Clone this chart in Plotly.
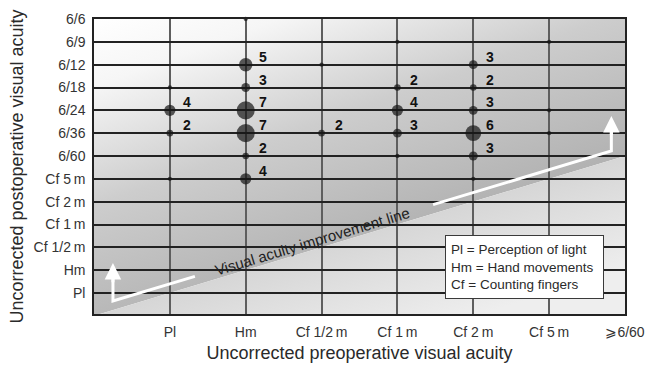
import base64
import math
import plotly.graph_objects as go

# ---------------- data ----------------
pre_categories = ["Pl", "Hm", "Cf 1/2m", "Cf 1m", "Cf 2m", "Cf 5m", ">=6/60"]
pre_tick_labels = ["Pl", "Hm", "Cf 1/2\u2009m", "Cf 1\u2009m", "Cf 2\u2009m", "Cf 5\u2009m", "\u2a7e6/60"]

post_categories = ["Pl", "Hm", "Cf 1/2m", "Cf 1m", "Cf 2m", "Cf 5m",
                   "6/60", "6/36", "6/24", "6/18", "6/12", "6/9", "6/6"]
post_tick_labels = ["Pl", "Hm", "Cf 1/2\u2009m", "Cf 1\u2009m", "Cf 2\u2009m", "Cf 5\u2009m",
                    "6/60", "6/36", "6/24", "6/18", "6/12", "6/9", "6/6"]

pre_points = ["Pl", "Pl", "Pl", "Pl",
              "Hm", "Hm", "Hm", "Hm", "Hm", "Hm", "Hm",
              "Cf 1/2m", "Cf 1/2m",
              "Cf 1m", "Cf 1m", "Cf 1m", "Cf 1m", "Cf 1m",
              "Cf 2m", "Cf 2m", "Cf 2m", "Cf 2m", "Cf 2m", "Cf 2m",
              "Cf 5m", "Cf 5m", "Cf 5m"]
post_points = ["6/18", "6/24", "6/36", "Cf 5m",
               "6/6", "6/12", "6/18", "6/24", "6/36", "6/60", "Cf 5m",
               "6/12", "6/36",
               "6/9", "6/18", "6/24", "6/36", "6/60",
               "6/12", "6/18", "6/24", "6/36", "6/60", "Cf 5m",
               "6/9", "6/24", "6/36"]
patient_counts = [1, 4, 2, 1,
                  1, 5, 3, 7, 7, 2, 4,
                  1, 2,
                  1, 2, 4, 3, 1,
                  3, 2, 3, 6, 3, 1,
                  1, 1, 1]

legend_lines = ["Pl = Perception of light", "Hm = Hand movements", "Cf = Counting fingers"]
improvement_label = "Visual acuity improvement line"
x_title = "Uncorrected preoperative visual acuity"
y_title = "Uncorrected postoperative visual acuity"

# ---------------- geometry / style ----------------
W_FIG, H_FIG = 645, 367
M_L, M_R, M_T, M_B = 94, 20, 19, 53
XR = [-1, 6]
YR = [-0.92, 12]
FONT = "Liberation Sans, Arial, Helvetica, sans-serif"

xs = [pre_categories.index(c) for c in pre_points]
ys = [post_categories.index(c) for c in post_points]
sizes = [2 + 2.3 * c for c in patient_counts]

# background gradient as inline SVG (decoration only)
PW, PH = W_FIG - M_L - M_R, H_FIG - M_T - M_B


def px(x):
    return (x - XR[0]) / (XR[1] - XR[0]) * PW


def py(y):
    return (YR[1] - y) / (YR[1] - YR[0]) * PH


lx0, ly0 = px(XR[0]), py(XR[0])
lx1, ly1 = px(XR[1]), py(XR[1])
mx, my = (lx0 + lx1) / 2, (ly0 + ly1) / 2
dx, dy = lx1 - lx0, ly1 - ly0
nlen = (dx * dx + dy * dy) ** 0.5
nx, ny = -dy / nlen, dx / nlen  # normal pointing down-right
svg = f'''<svg xmlns="http://www.w3.org/2000/svg" width="{PW}" height="{PH}" viewBox="0 0 {PW} {PH}" preserveAspectRatio="none">
<defs>
<linearGradient id="up" gradientUnits="userSpaceOnUse" x1="0" y1="0" x2="110" y2="300">
<stop offset="0" stop-color="#ffffff"/>
<stop offset="0.2" stop-color="#f6f6f6"/>
<stop offset="0.55" stop-color="#cdcdcd"/>
<stop offset="1" stop-color="#b0b0b0"/>
</linearGradient>
<linearGradient id="lo" gradientUnits="userSpaceOnUse" x1="{mx:.1f}" y1="{my:.1f}" x2="{mx + 110 * nx:.1f}" y2="{my + 110 * ny:.1f}">
<stop offset="0" stop-color="#d6d6d6"/>
<stop offset="1" stop-color="#eeeeee"/>
</linearGradient>
</defs>
<polygon points="0,0 {PW},0 {lx1:.1f},{ly1:.1f} {lx0:.1f},{ly0:.1f}" fill="url(#up)"/>
<polygon points="{lx0:.1f},{ly0:.1f} {lx1:.1f},{ly1:.1f} {PW},{PH + 5} 0,{PH + 5}" fill="url(#lo)"/>
</svg>'''
svg_uri = "data:image/svg+xml;base64," + base64.b64encode(svg.encode()).decode()

fig = go.Figure()

fig.add_trace(go.Scatter(
    x=xs, y=ys, mode="markers",
    marker=dict(size=sizes, color="#151515", line=dict(width=0)),
    showlegend=False, hoverinfo="skip", cliponaxis=False,
))

annotations = []
for x, y, c in zip(xs, ys, patient_counts):
    if c > 1:
        annotations.append(dict(
            x=x, y=y, xref="x", yref="y", text=f"<b>{c}</b>", showarrow=False,
            xshift=17, yshift=8, font=dict(family=FONT, size=14, color="#111"),
            xanchor="center", yanchor="middle"))

# improvement line text (collinear with identity line, offset 0.4)
OFF = 0.4
tx = 1.87
angle = -math.degrees(math.atan((PH / (YR[1] - YR[0])) / (PW / (XR[1] - XR[0]))))
annotations.append(dict(
    x=tx, y=tx + OFF, xref="x", yref="y", text=improvement_label, showarrow=False,
    textangle=angle, font=dict(family=FONT, size=15, color="#1e1e1e"),
    xanchor="center", yanchor="middle"))

# white arrows
shapes = []
arrow_sets = [(0.33, -0.75, 1.31), (3.47, 5.82, 7.75)]
for xstart, xcorner, ytip in arrow_sets:
    shapes.append(dict(
        type="path", xref="x", yref="y",
        path=f"M {xstart},{xstart + OFF} L {xcorner},{xcorner + OFF} L {xcorner},{ytip - 0.6}",
        line=dict(color="white", width=3), layer="above"))
    annotations.append(dict(
        x=xcorner, y=ytip, ax=xcorner, ay=ytip - 0.9, xref="x", yref="y",
        axref="x", ayref="y", text="", showarrow=True, arrowhead=2,
        arrowsize=1.1, arrowwidth=3, arrowcolor="white"))

# legend box
annotations.append(dict(
    x=0.811, y=0.158, xref="paper", yref="paper", text="<br>".join(legend_lines),
    showarrow=False, align="left", xanchor="center", yanchor="middle",
    font=dict(family=FONT, size=13.5, color="#2a2a2a"),
    bgcolor="white", bordercolor="#3a3a3a", borderwidth=1, borderpad=5,
    width=147, height=52))

fig.update_layout(
    width=W_FIG, height=H_FIG,
    margin=dict(l=M_L, r=M_R, t=M_T, b=M_B, autoexpand=False),
    paper_bgcolor="white", plot_bgcolor="rgba(0,0,0,0)",
    images=[dict(source=svg_uri, xref="paper", yref="paper", x=0, y=1,
                 sizex=1, sizey=1, xanchor="left", yanchor="top",
                 sizing="stretch", layer="below")],
    shapes=shapes, annotations=annotations,
    font=dict(family=FONT, color="#2a2a2a"),
)

fig.update_xaxes(
    range=XR, tickvals=list(range(len(pre_categories))), ticktext=pre_tick_labels,
    showgrid=True, gridcolor="#5e5e5e", gridwidth=2, zeroline=False,
    showline=True, linecolor="#222", linewidth=1.5, mirror=True,
    ticks="", ticklabelstandoff=4, tickfont=dict(family=FONT, size=14, color="#333"),
    title=dict(text=x_title, font=dict(family=FONT, size=18, color="#2a2a2a"), standoff=8),
    automargin=False,
)
fig.update_yaxes(
    range=YR, tickvals=list(range(len(post_categories))), ticktext=post_tick_labels,
    showgrid=True, gridcolor="#222", gridwidth=1.5, zeroline=False,
    showline=True, linecolor="#222", linewidth=1.5, mirror=True,
    ticks="", ticklabelstandoff=4, tickfont=dict(family=FONT, size=14, color="#333"),
    title=dict(text=y_title, font=dict(family=FONT, size=18, color="#2a2a2a"), standoff=5),
    automargin=False,
)

fig.write_html("out.html", config={"displayModeBar": False},
               post_script="document.body.style.margin='0';")
